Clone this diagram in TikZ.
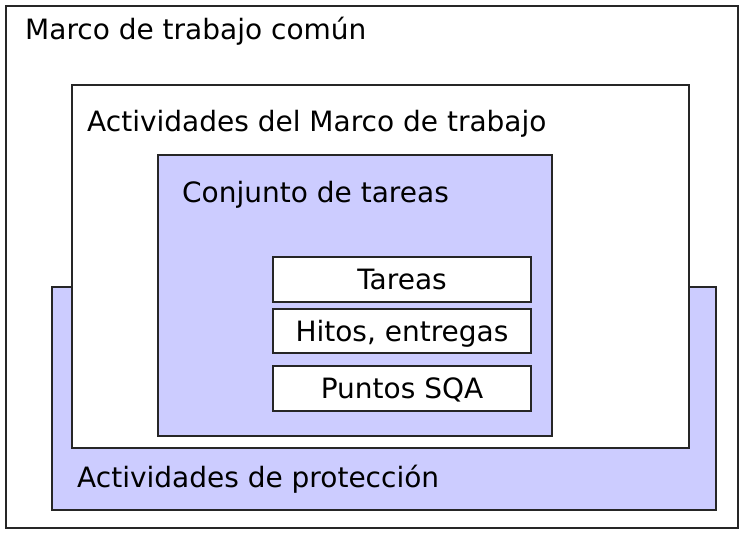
\documentclass[tikz,border=0pt]{standalone}
\usepackage{fontspec}
\setmainfont{DejaVu Sans}
\usetikzlibrary{positioning}

\definecolor{lavanda}{RGB}{204,204,255}
\tikzset{
    caja/.style={draw=black!85, line width=2pt, inner sep=0pt, minimum width=#1},
    tarea/.style={caja=258pt, fill=white, text height=20pt, text depth=0pt},
    titulo/.style={anchor=base west, inner sep=0pt}
}

\begin{document}
\begin{tikzpicture}[x=1pt, y=-1pt, font=\fontsize{28}{32}\selectfont]
    \useasboundingbox (0,0) rectangle (743,537);

    % cajas, de fuera hacia dentro
    \node[caja=732pt, minimum height=522pt, fill=white] (comun) at (372,267) {};
    \node[caja=664pt, minimum height=223pt, fill=lavanda] (proteccion) at (384,398.5) {};
    \node[caja=617pt, minimum height=363pt, fill=white] (marco) at (380.5,266.5) {};
    \node[caja=394pt, minimum height=281pt, fill=lavanda] (conjunto) at (355,295.5) {};

    \node[tarea, minimum height=45pt] (tareas) at (402,279.5) {Tareas};
    \node[tarea, minimum height=44pt] (hitos) at (402,331) {Hitos, entregas};
    \node[tarea, minimum height=45pt] (sqa) at (402,388.5) {Puntos SQA};

    % titulos
    \node[titulo] (tcomun) at (25,40) {Marco de trabajo común};
    \node[titulo] (tmarco) at (87,132) {Actividades del Marco de trabajo};
    \node[titulo] (tconjunto) at (182,203) {Conjunto de tareas};
    \node[titulo] (tproteccion) at (77,487) {Actividades de protección};
\end{tikzpicture}
\end{document}
